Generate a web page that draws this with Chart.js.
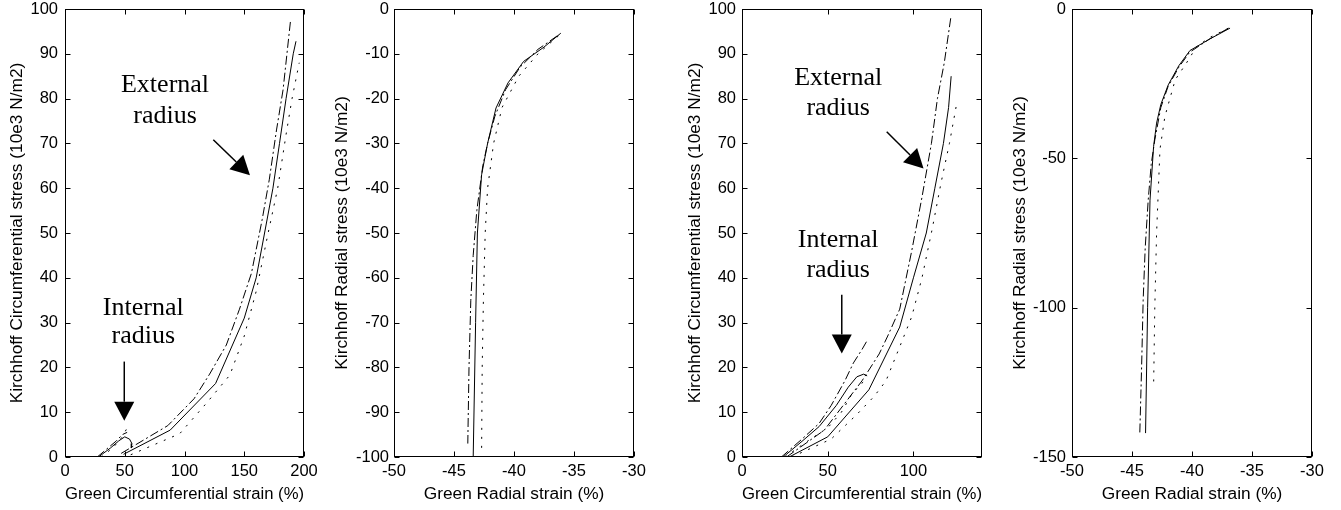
<!DOCTYPE html>
<html lang="en">
<head>
<meta charset="UTF-8">
<title>Kirchhoff stress vs Green strain</title>
<script src="https://cdn.jsdelivr.net/npm/chart.js"></script>
<style>
  body { margin: 0; background: #fff; }
  .wrap { position: relative; width: 1341px; height: 510px; }
  .wrap canvas { position: absolute; top: 0; }
</style>
</head>
<body>
<div class="wrap">
  <canvas id="c1" width="330" height="510" style="left:0"></canvas>
  <canvas id="c2" width="340" height="510" style="left:330px"></canvas>
  <canvas id="c3" width="330" height="510" style="left:670px"></canvas>
  <canvas id="c4" width="341" height="510" style="left:1000px"></canvas>
</div>
<script>
// ---- panel 1 : circumferential, case A ----
const p1ExtSolidX = [49, 88, 126, 150, 160, 167, 174, 179.5, 185, 191, 193.3];
const p1ExtSolidY = [0.6, 6, 16.4, 31, 40, 50, 60, 70, 80, 90, 92.8];
const p1ExtDashX = [47, 86, 108, 121, 135, 146, 156, 165, 171, 177, 182.5, 188.8];
const p1ExtDashY = [0.8, 7, 13, 18.5, 25, 33, 41, 53, 62, 73, 82, 97.6];
const p1ExtDotX = [55, 96, 118, 138, 150, 160, 170, 178, 185, 190, 196];
const p1ExtDotY = [0.5, 5.2, 11.9, 18.3, 27, 37, 50, 60, 72, 80, 88];
const p1IntSolidX = [28, 38, 45, 50, 54, 56, 55.5];
const p1IntSolidY = [0, 2, 3.6, 4.5, 4, 3, 2];
const p1IntDashX = [27, 35, 43, 48, 52];
const p1IntDashY = [0, 1.8, 3.6, 5, 5.5];
const p1IntDotX = [30, 40, 48, 52, 53];
const p1IntDotY = [0, 2, 4.5, 6.5, 7];

// ---- panel 2 : radial, case A ----
const p2SolidX = [-36.1, -37.5, -39.2, -40.5, -41.5, -42.2, -42.7, -43.05, -43.2, -43.4];
const p2SolidY = [-5.4, -8.5, -11.7, -16.5, -22.1, -30, -37, -50, -70, -100];
const p2DashX = [-36.4, -38, -39.5, -40.7, -41.6, -42.2, -42.6, -43.1, -43.4, -43.6, -43.75, -43.85];
const p2DashY = [-6, -9, -13, -18, -24, -30, -35, -45, -55, -65, -80, -97];
const p2DotX = [-36.3, -38, -39.6, -41, -41.7, -42.2, -42.4, -42.55, -42.65, -42.7];
const p2DotY = [-6, -10, -15, -22, -30, -40, -50, -65, -80, -99];

// ---- panel 3 : circumferential, case B ----
const p3ExtSolidX = [27.5, 50, 74, 92, 100, 107.5, 112.5, 117.5, 120.5, 122];
const p3ExtSolidY = [0, 4.5, 15, 29, 40, 50, 60, 70, 78, 85];
const p3ExtDashX = [26, 48, 70, 80, 85, 92, 99, 105, 110.5, 114, 118, 122];
const p3ExtDashY = [0, 6, 17, 23, 27, 33, 46, 58, 70, 80, 88, 98.6];
const p3ExtDotX = [29, 52, 67, 77, 84, 92, 99, 105, 111, 116, 121, 125];
const p3ExtDotY = [0, 4, 9.5, 13.5, 17, 24.6, 31.3, 40, 51, 61, 70, 78.4];
const p3IntSolidX = [24, 35, 45, 55, 62, 67, 71, 73];
const p3IntSolidY = [0, 3.5, 6.8, 11.5, 15.6, 17.9, 18.5, 18.1];
const p3IntDashX = [23, 35, 45, 52, 60, 65, 70, 73];
const p3IntDashY = [0, 4, 7.5, 11.5, 17, 21, 24, 26];
const p3IntDotX = [25, 40, 50, 58, 64, 70, 73];
const p3IntDotY = [0, 4, 6.5, 10, 14, 16.5, 17.5];

// ---- panel 4 : radial, case B ----
const p4SolidX = [-36.83, -38.5, -40.17, -41.1, -41.98, -42.6, -42.95, -43.2, -43.5, -43.7, -43.87];
const p4SolidY = [-6.4, -10, -13.9, -19, -25.4, -32, -38.2, -46, -64, -100, -142];
const p4DashX = [-37, -38.6, -40.2, -41.1, -42, -42.6, -43.1, -43.4, -43.65, -43.9, -44.07, -44.2, -44.35];
const p4DashY = [-6.5, -10.2, -14.5, -19.5, -26, -33, -43.8, -52, -64, -80, -97.5, -120, -142];
const p4DotX = [-36.96, -38.5, -39.6, -40.45, -41.4, -42.26, -42.67, -42.95, -43.1, -43.2];
const p4DotY = [-6.4, -9.5, -12.5, -18, -23.7, -36, -47, -75, -100, -126.5];

// tick labels
const circXTicksA = [0, 50, 100, 150, 200];
const circXTicksB = [0, 50, 100];
const circYTicks = [0, 10, 20, 30, 40, 50, 60, 70, 80, 90, 100];
const radXTicks = [-50, -45, -40, -35, -30];
const radYTicksA = [-100, -90, -80, -70, -60, -50, -40, -30, -20, -10, 0];
const radYTicksB = [-150, -100, -50, 0];

const circXTitle = 'Green Circumferential strain (%)';
const circYTitle = 'Kirchhoff Circumferential stress (10e3 N/m2)';
const radXTitle = 'Green Radial strain (%)';
const radYTitle = 'Kirchhoff Radial stress (10e3 N/m2)';

const DASH = { solid: [], dashdot: [9, 3, 2, 3], dot: [2, 7] };

function pts(xs, ys) {
    return xs.map((v, i) => ({ x: v, y: ys[i] }));
}

// MATLAB style box with inward ticks on all four sides
const boxPlugin = {
    id: 'box',
    afterDraw(chart) {
        const { ctx, chartArea: a, scales: { x, y } } = chart;
        const L = Math.round(a.left) + 0.5, R = Math.round(a.right) - 0.5;
        const T = Math.round(a.top) + 0.5, B = Math.round(a.bottom) - 0.5;
        ctx.save();
        ctx.strokeStyle = '#000';
        ctx.lineWidth = 1;
        ctx.strokeRect(L, T, R - L, B - T);
        ctx.beginPath();
        x.ticks.forEach(t => {
            const p = Math.round(x.getPixelForValue(t.value)) + 0.5;
            ctx.moveTo(p, B); ctx.lineTo(p, B - 5);
            ctx.moveTo(p, T); ctx.lineTo(p, T + 5);
        });
        y.ticks.forEach(t => {
            const p = Math.round(y.getPixelForValue(t.value)) + 0.5;
            ctx.moveTo(L, p); ctx.lineTo(L + 5, p);
            ctx.moveTo(R, p); ctx.lineTo(R - 5, p);
        });
        ctx.stroke();
        ctx.restore();
    }
};

// text labels and arrows, placed in data units
const notesPlugin = {
    id: 'notes',
    afterDatasetsDraw(chart, args, opts) {
        const { ctx, scales: { x, y } } = chart;
        ctx.save();
        ctx.fillStyle = '#000';
        ctx.strokeStyle = '#000';
        ctx.font = '26px "Liberation Serif", "Times New Roman", serif';
        ctx.textAlign = 'center';
        ctx.textBaseline = 'alphabetic';
        (opts.texts || []).forEach(t => {
            ctx.fillText(t.text, x.getPixelForValue(t.x), y.getPixelForValue(t.y));
        });
        (opts.arrows || []).forEach(a => {
            const x0 = x.getPixelForValue(a.x0), y0 = y.getPixelForValue(a.y0);
            const x1 = x.getPixelForValue(a.x1), y1 = y.getPixelForValue(a.y1);
            const ang = Math.atan2(y1 - y0, x1 - x0);
            const hl = 19, hw = 10;
            const bx = x1 - hl * Math.cos(ang), by = y1 - hl * Math.sin(ang);
            ctx.lineWidth = 1.5;
            ctx.beginPath();
            ctx.moveTo(x0, y0);
            ctx.lineTo(bx, by);
            ctx.stroke();
            ctx.beginPath();
            ctx.moveTo(x1, y1);
            ctx.lineTo(bx + hw * Math.sin(ang), by - hw * Math.cos(ang));
            ctx.lineTo(bx - hw * Math.sin(ang), by + hw * Math.cos(ang));
            ctx.closePath();
            ctx.fill();
        });
        ctx.restore();
    }
};

function makePanel(id, cfg) {
    const tickFont = { family: '"Liberation Sans", Arial, sans-serif', size: 16.5 };
    const titleFont = { family: '"Liberation Sans", Arial, sans-serif', size: 17.3 };
    return new Chart(document.getElementById(id), {
        type: 'scatter',
        data: {
            datasets: cfg.series.map(s => ({
                data: pts(s[0], s[1]),
                showLine: true,
                borderColor: '#000',
                borderWidth: 1,
                borderDash: DASH[s[2]],
                pointRadius: 0,
                tension: 0,
                fill: false
            }))
        },
        options: {
            responsive: false,
            animation: false,
            events: [],
            layout: { padding: { top: 9, right: cfg.padRight, left: 0, bottom: 0 } },
            plugins: {
                legend: { display: false },
                tooltip: { enabled: false },
                notes: cfg.notes || {}
            },
            scales: {
                x: {
                    type: 'linear',
                    min: cfg.xMin, max: cfg.xMax,
                    afterBuildTicks: s => { s.ticks = cfg.xTicks.map(v => ({ value: v })); },
                    afterFit: s => { s.height = 53; s.paddingLeft = 0; s.paddingRight = 0; },
                    grid: { display: false, drawTicks: false },
                    border: { display: false },
                    ticks: { color: '#000', font: tickFont, padding: 5, maxRotation: 0, autoSkip: false },
                    title: { display: true, text: cfg.xTitle, color: '#000', font: titleFont, padding: { top: 0, bottom: 5 } }
                },
                y: {
                    type: 'linear',
                    min: cfg.yMin, max: cfg.yMax,
                    afterBuildTicks: s => { s.ticks = cfg.yTicks.map(v => ({ value: v })); },
                    afterFit: s => { s.width = cfg.plotLeft; s.paddingTop = 0; s.paddingBottom = 0; },
                    grid: { display: false, drawTicks: false },
                    border: { display: false },
                    ticks: { color: '#000', font: tickFont, padding: cfg.yTickPad, autoSkip: false },
                    title: { display: true, text: cfg.yTitle, color: '#000', font: titleFont, padding: { top: cfg.yTitlePad, bottom: 0 } }
                }
            }
        },
        plugins: [boxPlugin, notesPlugin]
    });
}

makePanel('c1', {
    xMin: 0, xMax: 200, yMin: 0, yMax: 100,
    xTicks: circXTicksA, yTicks: circYTicks,
    xTitle: circXTitle, yTitle: circYTitle,
    plotLeft: 65, padRight: 26, yTickPad: 7, yTitlePad: 7,
    series: [
        [p1ExtSolidX, p1ExtSolidY, 'solid'],
        [p1ExtDashX, p1ExtDashY, 'dashdot'],
        [p1ExtDotX, p1ExtDotY, 'dot'],
        [p1IntSolidX, p1IntSolidY, 'solid'],
        [p1IntDashX, p1IntDashY, 'dashdot'],
        [p1IntDotX, p1IntDotY, 'dot']
    ],
    notes: {
        texts: [
            { text: 'External', x: 83.7, y: 81.4 },
            { text: 'radius', x: 83.7, y: 74.6 },
            { text: 'Internal', x: 65.5, y: 31.7 },
            { text: 'radius', x: 65.5, y: 25.4 }
        ],
        arrows: [
            { x0: 124.1, y0: 70.8, x1: 154.8, y1: 62.9 },
            { x0: 49.6, y0: 21.3, x1: 49.6, y1: 8.1 }
        ]
    }
});

makePanel('c2', {
    xMin: -50, xMax: -30, yMin: -100, yMax: 0,
    xTicks: radXTicks, yTicks: radYTicksA,
    xTitle: radXTitle, yTitle: radYTitle,
    plotLeft: 64, padRight: 36, yTickPad: 5, yTitlePad: 2,
    series: [
        [p2SolidX, p2SolidY, 'solid'],
        [p2DashX, p2DashY, 'dashdot'],
        [p2DotX, p2DotY, 'dot']
    ]
});

makePanel('c3', {
    xMin: 0, xMax: 140, yMin: 0, yMax: 100,
    xTicks: circXTicksB, yTicks: circYTicks,
    xTitle: circXTitle, yTitle: circYTitle,
    plotLeft: 72, padRight: 18, yTickPad: 6, yTitlePad: 15,
    series: [
        [p3ExtSolidX, p3ExtSolidY, 'solid'],
        [p3ExtDashX, p3ExtDashY, 'dashdot'],
        [p3ExtDotX, p3ExtDotY, 'dot'],
        [p3IntSolidX, p3IntSolidY, 'solid'],
        [p3IntDashX, p3IntDashY, 'dashdot'],
        [p3IntDotX, p3IntDotY, 'dot']
    ],
    notes: {
        texts: [
            { text: 'External', x: 56.1, y: 83 },
            { text: 'radius', x: 56.1, y: 76.3 },
            { text: 'Internal', x: 56.1, y: 46.9 },
            { text: 'radius', x: 56.1, y: 40.2 }
        ],
        arrows: [
            { x0: 84.4, y0: 72.6, x1: 105.9, y1: 64.4 },
            { x0: 58.2, y0: 36.2, x1: 58.2, y1: 23.1 }
        ]
    }
});

makePanel('c4', {
    xMin: -50, xMax: -30, yMin: -150, yMax: 0,
    xTicks: radXTicks, yTicks: radYTicksB,
    xTitle: radXTitle, yTitle: radYTitle,
    plotLeft: 72, padRight: 29, yTickPad: 6, yTitlePad: 10,
    series: [
        [p4SolidX, p4SolidY, 'solid'],
        [p4DashX, p4DashY, 'dashdot'],
        [p4DotX, p4DotY, 'dot']
    ]
});
</script>
</body>
</html>
